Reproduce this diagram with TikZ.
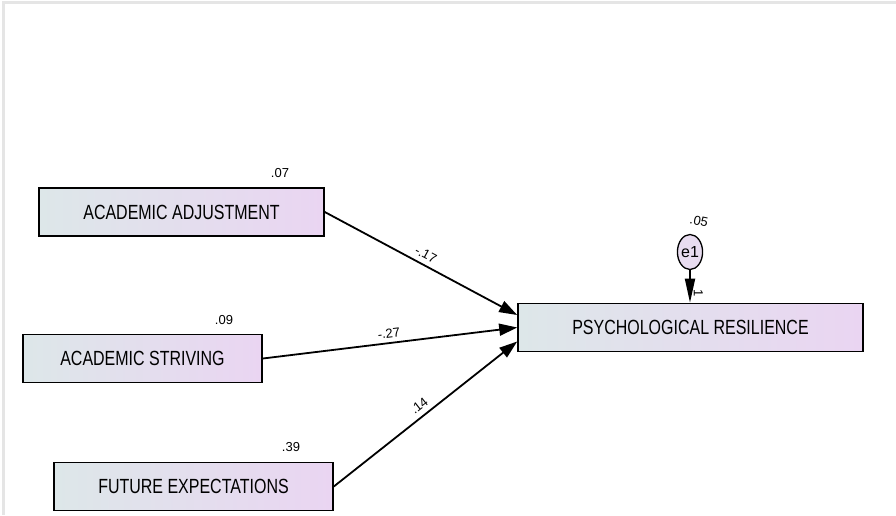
\documentclass[tikz,border=0pt]{standalone}
\usepackage{fontspec}
\setmainfont{Liberation Sans}
\newfontfamily\narrowfont{Liberation Sans}[FakeStretch=0.78]
\usetikzlibrary{arrows.meta,shapes.geometric}

\definecolor{boxleft}{RGB}{221,231,233}
\definecolor{boxright}{RGB}{234,213,242}
\definecolor{errfill}{RGB}{232,220,240}

\tikzset{
	var/.style={draw, line width=1.6pt, minimum height=48pt, inner sep=0pt,
		left color=boxleft, right color=boxright,
		font=\narrowfont\fontsize{20.5}{20.5}\selectfont},
	err/.style={ellipse, draw, line width=1.3pt, fill=errfill, inner sep=0pt,
		minimum width=25pt, minimum height=35pt, font=\fontsize{16}{16}\selectfont},
	num/.style={font=\fontsize{13}{13}\selectfont, inner sep=1pt},
	path/.style={line width=1.8pt, -{Triangle[length=18pt,width=12pt]}}
}

\begin{document}
\begin{tikzpicture}[x=1pt,y=-1pt]
				%\draw[help lines] (0,0) grid (896,515);
				\useasboundingbox (0,0) rectangle (896,515);
				\draw[black!10, line width=3pt] (3,515) -- (3,2) -- (896,2);
				
				\node[var, minimum width=285pt] (AA) at (181.5,212) {ACADEMIC ADJUSTMENT};
				\node[var, minimum width=239pt] (AS) at (142.5,358.5) {ACADEMIC STRIVING};
				\node[var, minimum width=279pt] (FE) at (193.5,486.5) {FUTURE EXPECTATIONS};
				\node[var, minimum width=345pt] (PR) at (690.5,327.5) {PSYCHOLOGICAL RESILIENCE};
				\node[err] (e1) at (690,252) {e1};
				
				% variances
				\node[num] at (280,173) {.07};
				\node[num] at (224,320) {.09};
				\node[num] at (291,447) {.39};
				\node[num, rotate=-12] at (699,221) {.05};
				
				% regression weights
				\draw[path] (AA.east) -- node[num, sloped, above=4pt] {-.17} ([yshift=12.5pt]PR.west);
				\draw[path] (AS.east) -- node[num, sloped, above=3pt] {-.27} (PR.west);
				\draw[path] (FE.east) -- node[num, sloped, above=4pt] {.14} ([yshift=-14pt]PR.west);
				\draw[path, -{Triangle[length=24pt,width=10pt]}] (e1.south) -- node[num, rotate=-90, anchor=south, xshift=7pt, yshift=2pt] {1} (e1.south |- PR.north);
\end{tikzpicture}
\end{document}
